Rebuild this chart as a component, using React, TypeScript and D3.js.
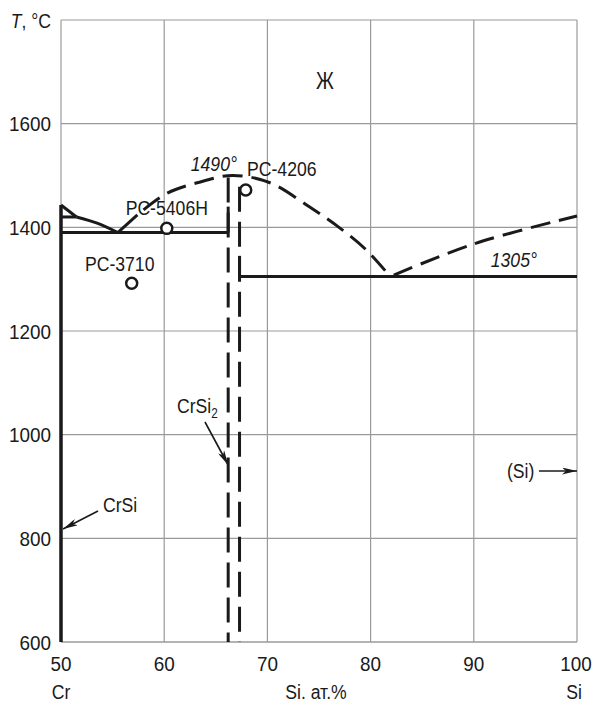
import React from "react";
import * as d3 from "d3";

// Cr–Si phase diagram, Si-rich side
const xTicks = [50, 60, 70, 80, 90, 100];
const yTicks = [600, 800, 1000, 1200, 1400, 1600];
const yGrid = [800, 1000, 1200, 1400, 1600, 1800];

const crSiLine: [number, number][] = [[50, 600], [50, 1443]];
const crCorner: [number, number][] = [[50, 1443], [51.5, 1420]];
const crShort: [number, number][] = [[50, 1420], [51.5, 1420]];
const crCurve: [number, number][] = [[51.5, 1420], [53.5, 1408], [55.5, 1390]];
const eutecticLeft: [number, number][] = [[50, 1390], [66.2, 1390]];
const liquidusSolid: [number, number][] = [[55.5, 1390], [57.4, 1424]];
const liquidusDome: [number, number][] = [
  [57.4, 1424], [60.3, 1466], [63.2, 1486], [66.6, 1500], [70.25, 1486],
  [74.1, 1439], [77, 1399], [79.6, 1356], [81.9, 1305],
];
const liquidusSi: [number, number][] = [[81.9, 1305], [90, 1368], [100, 1422]];
const eutecticRight: [number, number][] = [[67.3, 1305], [100, 1305]];
const crSi2Left: [number, number][] = [[66.2, 1500], [66.2, 600]];
const crSi2Right: [number, number][] = [[67.3, 1490], [67.3, 600]];
const crSi2Ticks: [number, number][][] = [
  [[66.2, 1390], [66.2, 1440]],
  [[67.3, 1305], [67.3, 1345]],
];

const samples = [
  { name: "PC-5406H", x: 60.25, t: 1398 },
  { name: "PC-3710", x: 56.85, t: 1292 },
  { name: "PC-4206", x: 67.9, t: 1472 },
];

const W = 592;
const H = 706;
const FONT = "'Liberation Sans', Arial, sans-serif";
const INK = "#1a1a1a";
const GRID = "#9a9a9a";

// condensed-looking text: squeeze horizontally around the anchor point
function Label({ x, y, anchor = "start", italic = false, size = 21, sx = 0.84, children }: any) {
  return (
    <text
      transform={`translate(${x},${y}) scale(${sx},1)`}
      textAnchor={anchor}
      fontFamily={FONT}
      fontSize={size}
      fontStyle={italic ? "italic" : "normal"}
      fill={INK}
    >
      {children}
    </text>
  );
}

export default function App() {
  const x = d3.scaleLinear().domain([50, 100]).range([61, 577]);
  const y = d3.scaleLinear().domain([600, 1800]).range([642, 20]);
  const line = d3.line<[number, number]>().x((d) => x(d[0])).y((d) => y(d[1]));
  const curve = d3
    .line<[number, number]>()
    .x((d) => x(d[0]))
    .y((d) => y(d[1]))
    .curve(d3.curveCatmullRom.alpha(0.5));

  const thick = { stroke: INK, strokeWidth: 3, fill: "none" };

  return (
    <svg width={W} height={H} style={{ position: "absolute", left: 0, top: 0, background: "#fff" }}>
      <defs>
        <marker id="arr" viewBox="0 0 15 7" refX="15" refY="3.5" markerWidth="15" markerHeight="7"
          markerUnits="userSpaceOnUse" orient="auto">
          <path d="M0,0 L15,3.5 L0,7 L4,3.5 Z" fill={INK} />
        </marker>
      </defs>

      {/* grid + frame */}
      {xTicks.map((t) => (
        <line key={"gx" + t} x1={x(t)} x2={x(t)} y1={y(600)} y2={y(1800)} stroke={GRID} strokeWidth={1.2} />
      ))}
      {yGrid.map((t) => (
        <line key={"gy" + t} x1={x(50)} x2={x(100)} y1={y(t)} y2={y(t)} stroke={GRID} strokeWidth={1.2} />
      ))}
      <line x1={x(50)} x2={x(100)} y1={y(600)} y2={y(600)} stroke={GRID} strokeWidth={1.5} />

      {/* tick labels */}
      {yTicks.map((t) => (
        <Label key={"ly" + t} x={51} y={y(t) + 7.5} anchor="end" sx={0.9}>{t}</Label>
      ))}
      {xTicks.map((t) => (
        <Label key={"lx" + t} x={t === 100 ? x(t) - 1 : x(t)} y={671} anchor="middle" sx={0.9}>{t}</Label>
      ))}
      <Label x={51} y={28} anchor="end">
        <tspan fontStyle="italic">T</tspan>, °C
      </Label>
      <Label x={x(50)} y={699} anchor="middle">Cr</Label>
      <Label x={316} y={699} anchor="middle">Si. ат.%</Label>
      <Label x={574} y={699} anchor="middle">Si</Label>

      {/* phase boundaries */}
      <path d={line(crSiLine)!} {...thick} strokeWidth={3.5} />
      <path d={line(crCorner)!} {...thick} />
      <path d={line(crShort)!} {...thick} />
      <path d={curve(crCurve)!} {...thick} />
      <path d={line(eutecticLeft)!} {...thick} />
      <path d={line(liquidusSolid)!} {...thick} />
      <path d={curve(liquidusDome)!} {...thick} strokeDasharray="20 9" strokeDashoffset={-8} />
      <path d={curve(liquidusSi)!} {...thick} strokeDasharray="20 9" strokeDashoffset={-4} />
      <path d={line(eutecticRight)!} {...thick} />
      <path d={line(crSi2Left)!} {...thick} strokeDasharray="25 10" strokeDashoffset={-2} />
      <path d={line(crSi2Right)!} {...thick} strokeDasharray="25 10" strokeDashoffset={-6} />
      {crSi2Ticks.map((seg, i) => (
        <path key={"tk" + i} d={line(seg)!} {...thick} />
      ))}

      {/* samples */}
      {samples.map((s) => (
        <circle key={s.name} cx={x(s.x)} cy={y(s.t)} r={5.5} fill="#fff" stroke={INK} strokeWidth={2.5} />
      ))}
      <Label x={x(60.25)} y={215} anchor="middle">PC-5406H</Label>
      <Label x={x(56.85) - 12} y={271} anchor="middle">PC-3710</Label>
      <Label x={247} y={176}>PC-4206</Label>

      {/* temperatures & phases */}
      <Label x={237} y={171} anchor="end" italic>1490°</Label>
      <Label x={537} y={267} anchor="end" italic>1305°</Label>
      <Label x={325} y={89} anchor="middle" size={23}>Ж</Label>

      <Label x={177} y={413}>
        CrSi<tspan fontSize={14} dy={5}>2</tspan>
      </Label>
      <line x1={205} y1={422} x2={x(66.2)} y2={465} stroke={INK} strokeWidth={1.6} markerEnd="url(#arr)" />

      <Label x={103} y={512}>CrSi</Label>
      <line x1={98} y1={511} x2={x(50) + 2} y2={529} stroke={INK} strokeWidth={1.6} markerEnd="url(#arr)" />

      <Label x={507} y={478}>(Si)</Label>
      <line x1={539} y1={471} x2={x(100)} y2={471} stroke={INK} strokeWidth={1.6} markerEnd="url(#arr)" />
    </svg>
  );
}
